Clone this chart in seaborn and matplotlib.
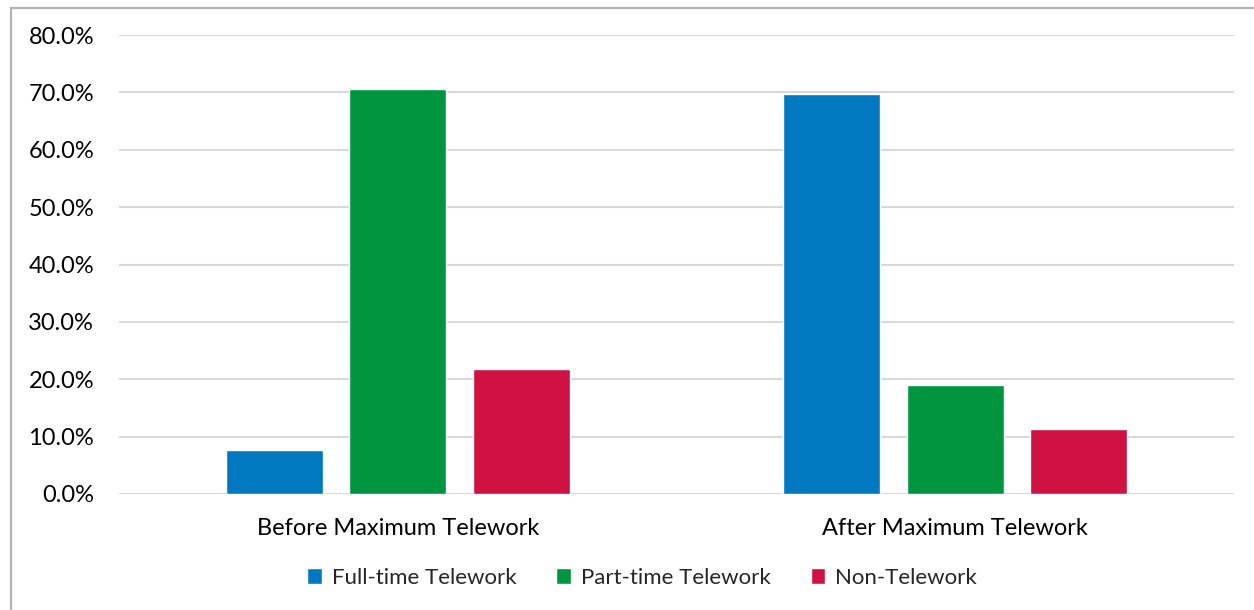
import matplotlib
matplotlib.use("Agg")
import matplotlib.pyplot as plt
from matplotlib.patches import Rectangle
from matplotlib.ticker import FuncFormatter, MultipleLocator
import seaborn as sns
import pandas as pd

periods = ["Before Maximum Telework", "After Maximum Telework"]
statuses = ["Full-time Telework", "Part-time Telework", "Non-Telework"]
full_time = [7.7, 69.7]
part_time = [70.6, 19.0]
non_telework = [21.8, 11.3]
colors = ["#0079C1", "#00963F", "#D01242"]

rows = []
for status, vals in zip(statuses, [full_time, part_time, non_telework]):
    for period, v in zip(periods, vals):
        rows.append({"period": period, "status": status, "share": v})
df = pd.DataFrame(rows)

sns.set_theme(style="white")
plt.rcParams["font.family"] = ["Lato", "DejaVu Sans"]

fig = plt.figure(figsize=(12.54, 6.10), dpi=100)
ax = fig.add_axes([119 / 1254, 1 - 494 / 610, (1234 - 119) / 1254, (494 - 35) / 610])

sns.barplot(data=df, x="period", y="share", hue="status", order=periods,
            hue_order=statuses, palette=colors, width=0.665, gap=0.215,
            saturation=1, ax=ax, legend=True, zorder=3)

ax.set_ylim(0, 80)
ax.yaxis.set_major_locator(MultipleLocator(10))
ax.yaxis.set_major_formatter(FuncFormatter(lambda v, _: f"{v:.1f}%"))
ax.grid(axis="y", color="#d9d9d9", linewidth=1.5, zorder=0)
ax.set_axisbelow(True)
for s in ax.spines.values():
    s.set_visible(False)
ax.set_xlabel("")
ax.set_ylabel("")
ax.tick_params(axis="both", length=0, labelsize=17, colors="#000000")
ax.tick_params(axis="y", pad=18)
ax.tick_params(axis="x", pad=17)

handles, labels = ax.get_legend_handles_labels()
ax.legend_.remove()
fig.legend(handles, labels, loc="center", bbox_to_anchor=(642 / 1254, 1 - 578 / 610),
           ncol=3, frameon=False, fontsize=16, handlelength=0.65, handleheight=0.75,
           handletextpad=0.45, columnspacing=1.8)

# outer chart frame
fig.patches.append(Rectangle((10.5 / 1254, -0.05), 1.2, (1 - 7.5 / 610) + 0.05,
                             transform=fig.transFigure, fill=False,
                             edgecolor="#b3b3b3", linewidth=1.6))

fig.savefig("out.png", dpi=100, facecolor="white")
